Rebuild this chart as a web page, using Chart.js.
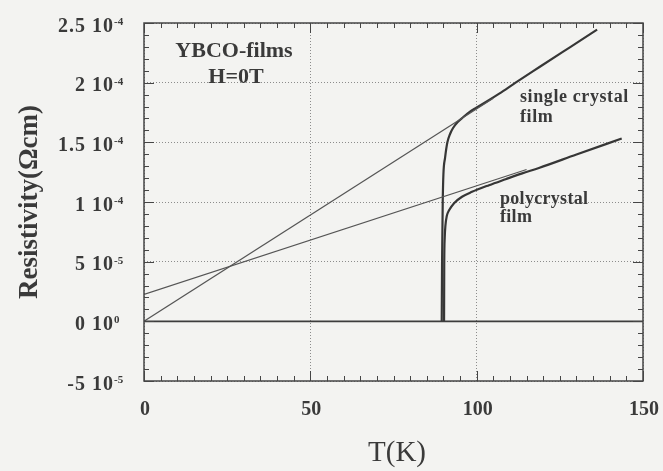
<!DOCTYPE html>
<html>
<head>
<meta charset="utf-8">
<script src="https://cdn.jsdelivr.net/npm/chart.js@4.4.1/dist/chart.umd.min.js"></script>
<style>
    html, body { margin: 0; padding: 0; background: #f3f3f1; }
    #chart { display: block; }
</style>
</head>
<body>
<canvas id="chart" width="663" height="471"></canvas>
<script>
// ============================================
// DATA
// ============================================

const xTicks = [0, 50, 100, 150];
const yTicks = [-5e-5, 0, 5e-5, 1e-4, 1.5e-4, 2e-4, 2.5e-4];
const yTickMantissa = ["-5", "0", "5", "1", "1.5", "2", "2.5"];
const yTickExponent = ["-5", "0", "-5", "-4", "-4", "-4", "-4"];

// single crystal film, measured curve
const singleT = [89.5, 89.6, 89.8, 90.0, 90.5, 91.2, 92.0, 92.9, 94.3, 95.9, 97.9, 99.9, 102.9, 106.9, 111.7, 119, 126, 131, 136.2];
const singleR = [0, 5e-5, 1.0e-4, 1.23e-4, 1.37e-4, 1.5e-4, 1.57e-4, 1.62e-4, 1.67e-4, 1.71e-4, 1.755e-4, 1.79e-4, 1.84e-4, 1.91e-4, 2.0e-4, 2.133e-4, 2.26e-4, 2.35e-4, 2.445e-4];

// polycrystal film, measured curve
const polyT = [90.2, 90.25, 90.4, 90.6, 91.0, 91.7, 93.2, 95.6, 98.6, 103.7, 108.7, 113.7, 118.7, 130, 143.6];
const polyR = [0, 4.6e-5, 7.0e-5, 8.0e-5, 8.8e-5, 9.3e-5, 9.9e-5, 1.044e-4, 1.085e-4, 1.141e-4, 1.191e-4, 1.24e-4, 1.285e-4, 1.398e-4, 1.532e-4];

// linear extrapolations of the normal state
const singleFitT = [0, 105];
const singleFitR = [0, 1.87e-4];
const polyFitT = [0, 115];
const polyFitR = [2.25e-5, 1.272e-4];

// zero resistance line
const zeroT = [0, 150];
const zeroR = [0, 0];

// ============================================
// HELPERS
// ============================================

const toPoints = (xs, ys) => xs.map((x, i) => ({ x: x, y: ys[i] }));

const lineSet = (xs, ys, width, color, smooth) => ({
    data: toPoints(xs, ys),
    showLine: true,
    borderColor: color,
    borderWidth: width,
    pointRadius: 0,
    fill: false,
    tension: 0,
    cubicInterpolationMode: smooth ? "monotone" : "default",
});

const serif = '"Liberation Serif", "DejaVu Serif", serif';
const ink = "#3a3a3a";

// frame, inward ticks, tick labels, titles and notes
const decorations = {
    id: "decorations",
    afterDraw(chart) {
        const { ctx, chartArea: a } = chart;
        const xs = chart.scales.x;
        const ys = chart.scales.y;
        ctx.save();

        // frame
        ctx.strokeStyle = "#454545";
        ctx.lineWidth = 1.5;
        ctx.strokeRect(a.left, a.top, a.right - a.left, a.bottom - a.top);

        // x ticks, bottom and top
        ctx.lineWidth = 1;
        ctx.beginPath();
        for (let t = 0; t <= 150; t += 5) {
            const px = Math.round(xs.getPixelForValue(t)) + 0.5;
            const len = t % 50 === 0 ? 10 : 5;
            ctx.moveTo(px, a.bottom);
            ctx.lineTo(px, a.bottom - len);
            ctx.moveTo(px, a.top);
            ctx.lineTo(px, a.top + len);
        }
        // y ticks, left and right
        for (let k = -5; k <= 25; k++) {
            const py = Math.round(ys.getPixelForValue(k * 1e-5)) + 0.5;
            const len = k % 5 === 0 ? 10 : 5;
            ctx.moveTo(a.left, py);
            ctx.lineTo(a.left + len, py);
            ctx.moveTo(a.right, py);
            ctx.lineTo(a.right - len, py);
        }
        ctx.stroke();

        // tick labels
        ctx.fillStyle = ink;
        ctx.textBaseline = "alphabetic";
        ctx.font = `bold 20px ${serif}`;
        ctx.textAlign = "center";
        xTicks.forEach((t) => {
            ctx.fillText(String(t), xs.getPixelForValue(t) + 1, 415);
        });
        yTicks.forEach((v, i) => {
            const py = ys.getPixelForValue(v);
            ctx.letterSpacing = "1px";
            ctx.font = `bold 20px ${serif}`;
            ctx.textAlign = "right";
            ctx.fillText(yTickMantissa[i] + " 10", 114, py + 8.5);
            ctx.letterSpacing = "0px";
            ctx.font = `bold 11px ${serif}`;
            ctx.textAlign = "left";
            ctx.fillText(yTickExponent[i], 114, py + 2);
        });

        // axis titles
        ctx.textAlign = "center";
        ctx.textBaseline = "middle";
        ctx.font = `29px ${serif}`;
        ctx.fillText("T(K)", 397, 453);
        ctx.save();
        ctx.translate(30, 202);
        ctx.rotate(-Math.PI / 2);
        ctx.font = `bold 27px ${serif}`;
        ctx.fillText("Resistivity(\u03A9cm)", 0, 0);
        ctx.restore();

        // notes
        ctx.textBaseline = "alphabetic";
        ctx.font = `bold 22px ${serif}`;
        ctx.fillText("YBCO-films", 234, 57);
        ctx.fillText("H=0T", 236, 83);
        ctx.textAlign = "left";
        ctx.font = `bold 18px ${serif}`;
        ctx.letterSpacing = "0.6px";
        ctx.fillText("single crystal", 520, 102);
        ctx.fillText("film", 520, 122);
        ctx.letterSpacing = "0.3px";
        ctx.fillText("polycrystal", 500, 204);
        ctx.fillText("film", 500, 222);
        ctx.letterSpacing = "0px";

        ctx.restore();
    },
};

// ============================================
// CHART
// ============================================

new Chart(document.getElementById("chart"), {
    type: "scatter",
    data: {
        datasets: [
            lineSet(zeroT, zeroR, 1.6, "#3d3d3d", false),
            lineSet(singleFitT, singleFitR, 1.2, "#555555", false),
            lineSet(polyFitT, polyFitR, 1.2, "#555555", false),
            lineSet(singleT, singleR, 2.2, "#363636", true),
            lineSet(polyT, polyR, 2.2, "#363636", true),
        ],
    },
    options: {
        responsive: false,
        animation: false,
        layout: { padding: { left: 0, right: 20, top: 23, bottom: 0 } },
        plugins: {
            legend: { display: false },
            tooltip: { enabled: false },
        },
        scales: {
            x: {
                type: "linear",
                min: 0,
                max: 150,
                afterBuildTicks: (s) => { s.ticks = xTicks.map((v) => ({ value: v })); },
                afterFit: (s) => { s.height = 90; },
                ticks: { display: false },
                grid: { color: "#8c8c8c", lineWidth: 1, drawTicks: false },
                border: { display: false, dash: [1, 2] },
            },
            y: {
                type: "linear",
                min: -5e-5,
                max: 2.5e-4,
                afterBuildTicks: (s) => { s.ticks = yTicks.map((v) => ({ value: v })); },
                afterFit: (s) => { s.width = 144; },
                ticks: { display: false },
                grid: { color: "#8c8c8c", lineWidth: 1, drawTicks: false },
                border: { display: false, dash: [1, 2] },
            },
        },
    },
    plugins: [decorations],
});
</script>
</body>
</html>
